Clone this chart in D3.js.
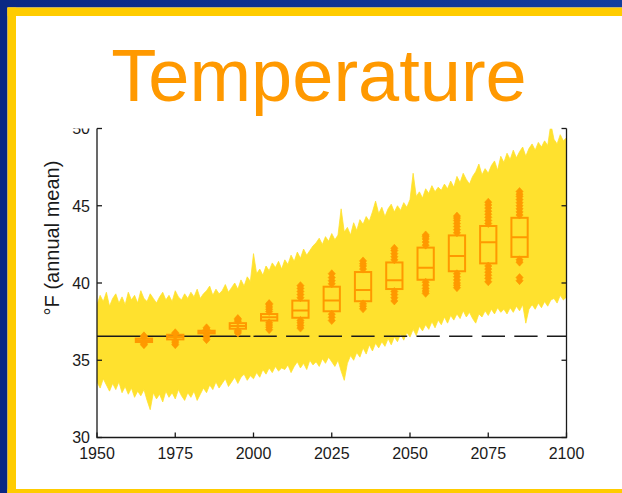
<!DOCTYPE html>
<html>
<head>
<meta charset="utf-8">
<script src="https://cdn.jsdelivr.net/npm/d3@7"></script>
<style>
  html, body { margin: 0; padding: 0; background: #ffffff; }
  svg { display: block; }
  text { font-family: "Liberation Sans", Arial, Helvetica, sans-serif; }
</style>
</head>
<body>
<svg id="chart" width="622" height="493"></svg>
<script>
// Ensemble spread of annual mean temperature (°F), 1950–2100: highest and lowest member each year
const firstYear = 1950;
const ensembleMax = [
  38.6, 39.2, 38.8, 39.4, 38.5, 39.0, 39.3, 38.7, 39.1, 38.6,
  39.4, 38.9, 39.2, 38.7, 39.5, 39.0, 38.8, 39.3, 39.0, 38.7,
  39.1, 39.4, 38.9, 39.2, 38.8, 39.5, 39.1, 38.9, 39.3, 39.0,
  39.4, 39.1, 39.6, 39.0, 39.3, 39.5, 39.8, 39.2, 39.6, 39.3,
  39.5, 39.9, 39.4, 39.7, 40.0, 39.6, 40.2, 39.8, 40.4, 40.1,
  41.9, 40.6, 40.9, 40.5, 41.1, 40.8, 41.3, 41.0, 41.4, 40.9,
  41.5, 41.2, 41.8, 41.4, 42.0, 41.6, 42.2, 41.8, 42.1, 42.4,
  42.6, 42.9, 42.5, 43.0, 42.7, 43.2, 42.8, 43.1, 44.8, 43.3,
  43.6, 43.1, 43.9, 43.4, 44.1, 43.8, 44.3, 44.0, 44.6, 45.3,
  44.5, 44.9, 44.3, 44.8, 45.1, 44.6, 45.0, 44.7, 45.2, 44.9,
  45.4, 47.1, 45.6, 45.9, 45.5, 46.1, 45.8, 46.3, 45.9, 46.2,
  46.0, 46.4, 46.1, 46.6, 46.2, 46.9, 46.5, 47.1, 46.7, 46.4,
  46.9, 47.2, 47.7, 47.0, 47.4, 47.1, 47.6, 47.9, 47.3, 48.2,
  47.8, 48.4, 48.0, 48.6, 48.1, 48.5, 48.8, 48.2, 48.7, 49.0,
  48.6, 49.1, 48.8, 49.2, 48.9, 50.3, 49.3, 49.0, 49.6, 49.2,
  49.4
];
const ensembleMin = [
  33.6, 33.2, 33.8, 33.4, 33.0, 33.5, 33.1, 33.6, 32.9, 33.3,
  32.8, 33.2, 32.6, 33.0, 32.7, 33.1, 32.4, 31.8, 32.9, 32.5,
  32.8, 32.3, 33.0, 32.6, 32.9, 32.5, 33.1, 32.7, 32.4, 32.9,
  32.6, 33.0, 32.4, 32.8, 33.2, 32.9, 33.4, 33.1, 33.6, 33.2,
  33.5, 33.8, 33.3, 33.6, 33.9, 33.5, 33.9, 34.1, 33.7, 34.0,
  33.8, 34.2, 33.9, 34.4, 34.1, 34.5, 34.2, 34.6, 34.3, 34.5,
  34.4, 34.7, 34.2, 34.6, 34.9, 34.5, 34.8, 34.4, 35.0, 34.7,
  34.9, 34.6, 35.1, 34.8, 35.2, 34.9, 34.6, 35.0, 34.3, 33.7,
  34.8, 35.3, 35.0, 35.5, 35.2, 35.8, 35.4, 36.0, 35.6, 36.1,
  35.8, 36.2, 35.9, 36.4, 36.0, 36.5, 36.2, 36.7, 36.3, 36.8,
  36.5, 37.0, 36.6, 37.2, 36.9, 37.3, 37.0, 37.5, 37.1, 37.6,
  37.3, 37.8, 37.4, 37.9, 37.6, 38.0, 37.7, 38.2, 37.8, 38.1,
  37.7, 37.4, 38.0, 37.8, 38.2, 37.9, 38.3, 38.0, 38.4, 38.1,
  38.3, 38.0, 38.4, 38.1, 38.5, 38.2, 38.6, 37.4, 38.3, 38.6,
  38.3, 38.7, 38.4, 38.8, 38.5, 38.9, 39.0, 38.7, 39.2, 38.9,
  39.1
];

// Decadal box plots (centre year of each decade)
const boxYears  = [1965, 1975, 1985, 1995, 2005, 2015, 2025, 2035, 2045, 2055, 2065, 2075, 2085];
const boxQ1     = [36.18, 36.35, 36.74, 37.04, 37.57, 37.75, 38.17, 38.82, 39.61, 40.21, 40.76, 41.27, 41.69];
const boxMedian = [36.30, 36.50, 36.82, 37.22, 37.79, 38.22, 38.86, 39.55, 40.17, 40.98, 41.74, 42.63, 42.96];
const boxQ3     = [36.40, 36.65, 36.91, 37.40, 37.99, 38.86, 39.76, 40.71, 41.33, 42.29, 43.08, 43.69, 44.22];
const outliersHigh = [
  [36.52, 36.58],
  [36.72, 36.78],
  [37.00, 37.10],
  [37.52, 37.62, 37.70],
  [38.15, 38.30, 38.45, 38.60, 38.67],
  [39.05, 39.25, 39.45, 39.65, 39.83],
  [39.95, 40.15, 40.35, 40.60],
  [40.90, 41.10, 41.25, 41.43],
  [41.50, 41.70, 41.90, 42.10, 42.25],
  [42.45, 42.65, 42.85, 43.00, 43.11],
  [43.25, 43.45, 43.65, 43.85, 44.05, 44.20, 44.33],
  [43.85, 44.05, 44.25, 44.45, 44.65, 44.85, 45.05, 45.23],
  [44.40, 44.60, 44.80, 45.00, 45.20, 45.40, 45.60, 45.75, 45.92]
];
const outliersLow = [
  [36.06, 36.00],
  [36.25, 36.13, 36.01],
  [36.62, 36.48, 36.33],
  [36.92, 36.84, 36.76],
  [37.42, 37.28, 37.14, 36.98],
  [37.58, 37.42, 37.25, 37.08],
  [37.98, 37.78, 37.57],
  [38.65, 38.50, 38.33],
  [39.45, 39.25, 39.05, 38.84],
  [40.05, 39.85, 39.65, 39.48, 39.33],
  [40.60, 40.40, 40.20, 40.00, 39.85, 39.70],
  [41.10, 40.90, 40.70, 40.50, 40.30, 40.08],
  [41.50, 41.35, 40.35, 40.15]
];

// 1950–1999 baseline mean
const baselineValue = 36.55;
const baselinePeriod = [1950, 1999];
const projectionPeriod = [2000, 2100];

const xTicks = [1950, 1975, 2000, 2025, 2050, 2075, 2100];
const yTicks = [30, 35, 40, 45, 50];
const titleText = "Temperature";
const yLabelText = "°F (annual mean)";

// ---- layout ----
const W = 622, H = 493;
const plot = { left: 97, right: 566.5, top: 128.5, bottom: 437.5 };
const boxHalfYears = 2.6;
const ORANGE = "#FF9900";
const YELLOW = "#FFE12E";
const INK = "#1a1a1a";

const svg = d3.select("#chart");
const x = d3.scaleLinear().domain([1950, 2100]).range([plot.left, plot.right]);
const y = d3.scaleLinear().domain([30, 50]).range([plot.bottom, plot.top]);

// frame: blue band and yellow trim
const defs = svg.append("defs");
const grad = defs.append("linearGradient").attr("id", "blueBand").attr("x1", 0).attr("x2", 1);
grad.append("stop").attr("offset", 0).attr("stop-color", "#0a2884");
grad.append("stop").attr("offset", 1).attr("stop-color", "#123e9e");
defs.append("clipPath").attr("id", "plotClip").append("rect")
  .attr("x", plot.left).attr("y", plot.top)
  .attr("width", plot.right - plot.left).attr("height", plot.bottom - plot.top);

// ensemble spread
const spread = ensembleMax.map((hi, i) => ({ year: firstYear + i, hi, lo: ensembleMin[i] }));
svg.append("path")
  .datum(spread)
  .attr("clip-path", "url(#plotClip)")
  .attr("fill", YELLOW)
  .attr("stroke", YELLOW)
  .attr("stroke-width", 0.8)
  .attr("d", d3.area().x(d => x(d.year)).y0(d => y(d.lo)).y1(d => y(d.hi)));

// baseline: solid over the reference period, dashed across the projection
svg.append("line")
  .attr("x1", x(baselinePeriod[0])).attr("x2", x(baselinePeriod[1]))
  .attr("y1", y(baselineValue)).attr("y2", y(baselineValue))
  .attr("stroke", INK).attr("stroke-width", 1.4);
svg.append("line")
  .attr("x1", x(projectionPeriod[0])).attr("x2", x(projectionPeriod[1]))
  .attr("y1", y(baselineValue)).attr("y2", y(baselineValue))
  .attr("stroke", INK).attr("stroke-width", 1.4)
  .attr("stroke-dasharray", "23.3,9.3");

// box plots
const boxes = boxYears.map((yr, i) => ({
  yr, q1: boxQ1[i], med: boxMedian[i], q3: boxQ3[i], hi: outliersHigh[i], lo: outliersLow[i]
}));
const bg = svg.append("g").attr("clip-path", "url(#plotClip)");
const diamond = (cx, cy) => {
  const p = d3.path();
  p.moveTo(cx, cy - 4); p.lineTo(cx + 3.6, cy); p.lineTo(cx, cy + 4); p.lineTo(cx - 3.6, cy); p.closePath();
  return p.toString();
};
boxes.forEach(b => {
  const g = bg.append("g");
  g.append("rect")
    .attr("x", x(b.yr - boxHalfYears)).attr("width", x(b.yr + boxHalfYears) - x(b.yr - boxHalfYears))
    .attr("y", y(b.q3)).attr("height", y(b.q1) - y(b.q3))
    .attr("fill", "none").attr("stroke", ORANGE).attr("stroke-width", 2);
  g.append("line")
    .attr("x1", x(b.yr - boxHalfYears)).attr("x2", x(b.yr + boxHalfYears))
    .attr("y1", y(b.med)).attr("y2", y(b.med))
    .attr("stroke", ORANGE).attr("stroke-width", 2);
  g.selectAll("path.out").data(b.hi.concat(b.lo)).join("path")
    .attr("class", "out")
    .attr("d", v => diamond(x(b.yr), y(v)))
    .attr("fill", ORANGE).attr("stroke", ORANGE).attr("stroke-width", 0.6);
});

// tick labels
const fmt = d3.format("d");
svg.append("g").selectAll("text").data(yTicks).join("text")
  .attr("x", plot.left - 7).attr("y", d => y(d)).attr("dy", "0.36em")
  .attr("text-anchor", "end").attr("font-size", 16).attr("fill", INK)
  .text(fmt);
svg.append("g").selectAll("text").data(xTicks).join("text")
  .attr("x", d => x(d)).attr("y", plot.bottom + 21)
  .attr("text-anchor", "middle").attr("font-size", 16).attr("fill", INK)
  .text(fmt);

// white title panel covering everything above the plot
svg.append("rect").attr("x", 0).attr("y", 0).attr("width", W).attr("height", plot.top).attr("fill", "#ffffff");

// axes (left, right, bottom; ticks point inward)
const axes = svg.append("g").attr("stroke", INK).attr("stroke-width", 1.3).attr("fill", "none");
axes.append("path").attr("d", `M${plot.left},${plot.top}V${plot.bottom}H${plot.right}V${plot.top}`);
yTicks.forEach(t => {
  axes.append("line").attr("x1", plot.left).attr("x2", plot.left + 5).attr("y1", y(t)).attr("y2", y(t));
  axes.append("line").attr("x1", plot.right).attr("x2", plot.right - 5).attr("y1", y(t)).attr("y2", y(t));
});
xTicks.forEach(t => {
  axes.append("line").attr("x1", x(t)).attr("x2", x(t)).attr("y1", plot.bottom).attr("y2", plot.bottom - 5);
});

// y axis title
svg.append("text")
  .attr("transform", `translate(59,238) rotate(-90)`)
  .attr("text-anchor", "middle").attr("font-size", 20).attr("fill", INK)
  .text(yLabelText);

// frame bands
svg.append("rect").attr("x", 0).attr("y", 0).attr("width", W).attr("height", 7.5).attr("fill", "url(#blueBand)");
svg.append("rect").attr("x", 0).attr("y", 0).attr("width", 7.5).attr("height", H).attr("fill", "#0a2884");
svg.append("rect").attr("x", 7.5).attr("y", 7.5).attr("width", W - 7.5).attr("height", 8.5).attr("fill", "#FFCC00");
svg.append("rect").attr("x", 7.5).attr("y", 7.5).attr("width", 8.5).attr("height", H - 7.5).attr("fill", "#FFCC00");
svg.append("rect").attr("x", 7.5).attr("y", 489).attr("width", W - 7.5).attr("height", 4).attr("fill", "#FFCC00");

// title
svg.append("text")
  .attr("x", 319).attr("y", 101)
  .attr("text-anchor", "middle").attr("font-size", 74).attr("fill", ORANGE)
  .text(titleText);
</script>
</body>
</html>
